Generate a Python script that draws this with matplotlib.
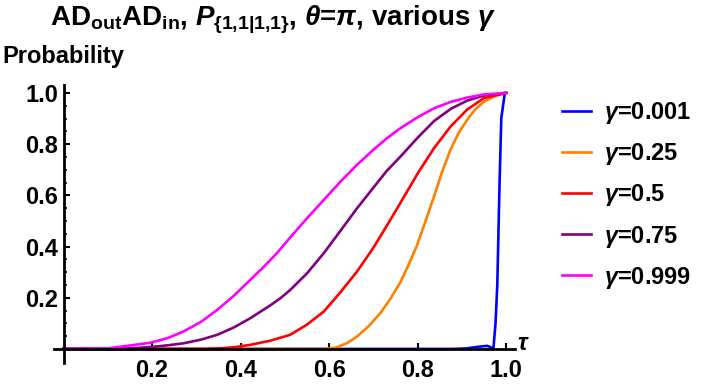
import matplotlib.pyplot as plt
import numpy as np

# DATOS
gammas = ['0.001', '0.25', '0.5', '0.75', '0.999']
colores = ['#0000ff', '#ff8000', '#ff0000', '#800080', '#ff00ff']

tau_g0001 = [0.0, 0.88, 0.91, 0.935, 0.957, 0.966, 0.971, 0.976, 0.98, 0.985, 0.989, 0.997]
p_g0001 = [0.0, 0.0, 0.002, 0.008, 0.012, 0.006, -0.003, 0.1, 0.25, 0.64, 0.9, 1.0]

tau_g025 = [0.0, 0.59, 0.615, 0.64, 0.663, 0.69, 0.716, 0.74, 0.761, 0.78, 0.799, 0.818,
            0.837, 0.855, 0.874, 0.893, 0.912, 0.93, 0.95, 0.975, 1.0]
p_g025 = [0.0, 0.0, 0.005, 0.022, 0.048, 0.09, 0.14, 0.20, 0.26, 0.33, 0.406, 0.50,
          0.595, 0.69, 0.777, 0.845, 0.895, 0.935, 0.966, 0.988, 1.0]

tau_g05 = [0.0, 0.32, 0.362, 0.392, 0.422, 0.467, 0.512, 0.55, 0.588, 0.625, 0.663, 0.7,
           0.73, 0.761, 0.8, 0.837, 0.875, 0.912, 0.95, 1.0]
p_g05 = [0.0, 0.0, 0.003, 0.008, 0.016, 0.032, 0.055, 0.095, 0.146, 0.22, 0.302, 0.395,
         0.48, 0.57, 0.685, 0.784, 0.87, 0.935, 0.98, 1.0]

tau_g075 = [0.0, 0.12, 0.158, 0.2, 0.235, 0.271, 0.31, 0.347, 0.385, 0.422, 0.467, 0.49,
            0.512, 0.55, 0.588, 0.625, 0.663, 0.7, 0.73, 0.761, 0.8, 0.837, 0.875, 0.912,
            0.95, 1.0]
p_g075 = [0.0, 0.0, 0.003, 0.008, 0.014, 0.022, 0.036, 0.055, 0.084, 0.12, 0.17, 0.198,
          0.23, 0.295, 0.374, 0.46, 0.549, 0.63, 0.695, 0.751, 0.825, 0.89, 0.938, 0.97,
          0.99, 1.0]

tau_g0999 = [0.0, 0.1, 0.135, 0.196, 0.235, 0.271, 0.31, 0.347, 0.385, 0.422, 0.452, 0.482,
             0.512, 0.55, 0.588, 0.625, 0.663, 0.7, 0.73, 0.761, 0.8, 0.837, 0.875, 0.912,
             0.95, 1.0]
p_g0999 = [0.0, 0.002, 0.01, 0.024, 0.042, 0.068, 0.105, 0.152, 0.208, 0.27, 0.32, 0.374,
           0.435, 0.51, 0.582, 0.652, 0.719, 0.778, 0.822, 0.862, 0.905, 0.94, 0.965, 0.982,
           0.994, 1.0]

listaTau = [tau_g0001, tau_g025, tau_g05, tau_g075, tau_g0999]
listaP = [p_g0001, p_g025, p_g05, p_g075, p_g0999]

plt.rcParams['font.family'] = ['Liberation Sans', 'DejaVu Sans']
plt.rcParams['font.weight'] = 'bold'
plt.rcParams['mathtext.fontset'] = 'custom'
plt.rcParams['mathtext.rm'] = 'Liberation Sans:bold'
plt.rcParams['mathtext.bf'] = 'Liberation Sans:bold'
plt.rcParams['mathtext.it'] = 'Liberation Sans:italic:bold'
plt.rcParams['mathtext.sf'] = 'Liberation Sans:bold'

fig = plt.figure(figsize=(7.01, 3.85), dpi=100)
ax = fig.add_axes([54/701, 1-363/385, (515-54)/701, (363-85)/385])

for i in range(len(gammas)):
    ax.plot(listaTau[i], listaP[i], color=colores[i], lw=1.9,
            label=r'$\gamma$=' + gammas[i], clip_on=False, zorder=2,
            solid_joinstyle='round')

ax.set_xlim(-0.0215, 1.02)
ax.set_ylim(-0.055, 1.031)

# EJES ESTILO MATHEMATICA
ax.spines['top'].set_visible(False)
ax.spines['right'].set_visible(False)
ax.spines['left'].set_position(('data', 0))
ax.spines['bottom'].set_position(('data', 0))
ax.spines['left'].set_linewidth(2)
ax.spines['bottom'].set_linewidth(2)
ax.spines['left'].set_zorder(3)
ax.spines['bottom'].set_zorder(3)

ax.set_xticks([0.2, 0.4, 0.6, 0.8, 1.0])
ax.set_xticklabels(['0.2', '0.4', '0.6', '0.8', '1.0'])
ax.set_yticks([0.2, 0.4, 0.6, 0.8, 1.0])
ax.set_yticklabels(['0.2', '0.4', '0.6', '0.8', '1.0'])
ax.set_yticks(np.arange(0.05, 1.01, 0.05), minor=True)
ax.tick_params(axis='both', which='major', direction='in', length=4, width=1.5,
               labelsize=17)
ax.tick_params(axis='x', which='major', pad=7)
ax.tick_params(axis='y', which='major', pad=4)
ax.tick_params(axis='y', which='minor', direction='in', length=2.5, width=1.2)
ax.tick_params(axis='x', which='minor', length=0)
for lab in ax.get_xticklabels() + ax.get_yticklabels():
    lab.set_fontweight('bold')

leg = ax.legend(loc='upper left', bbox_to_anchor=(541/701, 1-79/385),
                bbox_transform=fig.transFigure, frameon=False, fontsize=17,
                handlelength=1.2, handletextpad=0.55, labelspacing=0.64)
for h in leg.get_lines():
    h.set_linewidth(1.9)

fig.text(2/701, 1-63/385, 'Probability', fontsize=17, fontweight='bold',
         va='baseline', ha='left')
fig.text(517/701, 1-350/385, r'$\tau$', fontsize=17, va='baseline', ha='left')
fig.text(273/701, 1-25/385,
         r'AD$_\mathrm{out}$AD$_\mathrm{in}$, $P_{\{\text{1,1|1,1}\}}$, $\theta$=$\pi$, various $\gamma$',
         fontsize=20, fontweight='bold', va='baseline', ha='center')

fig.savefig('out.png', dpi=100)
